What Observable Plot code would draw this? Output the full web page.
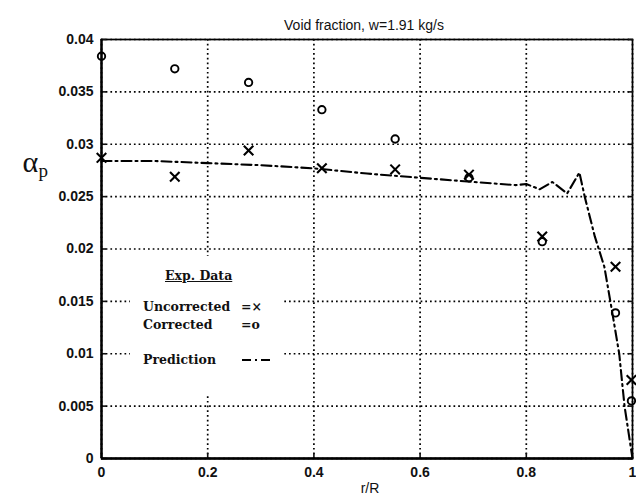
<!DOCTYPE html>
<html>
<head>
<meta charset="utf-8">
<script src="https://cdn.jsdelivr.net/npm/d3@7"></script>
<script src="https://cdn.jsdelivr.net/npm/@observablehq/plot@0.6"></script>
<style>
  html, body { margin: 0; padding: 0; background: #fff; }
  #wrap { position: relative; width: 636px; height: 504px; }
  #legend { position: absolute; left: 130px; top: 256px; width: 153px; height: 138px; background: #fff;
    font-family: "DejaVu Serif", "Liberation Serif", serif; font-weight: bold; font-size: 12.5px; color: #111; }
  #legend .row { position: absolute; left: 13px; white-space: nowrap; }
  #legend .sym { position: absolute; left: 111px; white-space: nowrap; }
</style>
</head>
<body>
<div id="wrap"></div>
<script>
// ---- data ----
const title = "Void fraction, w=1.91 kg/s";
const xLabel = "r/R";
const yLabelMain = "α";
const yLabelSub = "p";

const radii = [0, 0.138, 0.277, 0.415, 0.553, 0.692, 0.83, 0.968, 0.998];
const uncorrected = [0.0287, 0.0269, 0.0294, 0.0277, 0.0276, 0.0271, 0.0212, 0.0183, 0.0075];
const corrected   = [0.0384, 0.0372, 0.0359, 0.0333, 0.0305, 0.0268, 0.0207, 0.0139, 0.0055];

const predX = [0, 0.1, 0.2, 0.3, 0.4, 0.5, 0.6, 0.7, 0.78, 0.8, 0.825, 0.849, 0.877, 0.9, 0.91, 0.929, 0.947, 0.96, 0.975, 0.985, 1.0];
const predY = [0.0284, 0.0284, 0.0282, 0.0280, 0.0277, 0.0272, 0.0268, 0.0264, 0.0261, 0.0262, 0.0257, 0.0264, 0.0253, 0.0273, 0.0250, 0.0212, 0.0183, 0.0145, 0.0100, 0.0050, 0.0];

const xTicks = [0, 0.2, 0.4, 0.6, 0.8, 1];
const xTickLabels = ["0", "0.2", "0.4", "0.6", "0.8", "1"];
const yTicks = [0, 0.005, 0.01, 0.015, 0.02, 0.025, 0.03, 0.035, 0.04];
const yTickLabels = ["0", "0.005", "0.01", "0.015", "0.02", "0.025", "0.03", "0.035", "0.04"];

const legendTitle = "Exp. Data";
const legendRows = [
  {label: "Uncorrected", sym: "=×"},
  {label: "Corrected", sym: "=o"},
  {label: "Prediction", sym: null}
];

// ---- build ----
const pts = radii.map((r, i) => ({r, u: uncorrected[i], c: corrected[i]}));
const pred = predX.map((x, i) => ({x, y: predY[i]}));
const tickFont = "Liberation Sans, Arial, sans-serif";

const chart = Plot.plot({
  width: 636,
  height: 504,
  marginLeft: 101,
  marginRight: 4,
  marginTop: 39,
  marginBottom: 46,
  style: {fontFamily: tickFont, fontSize: "14px", color: "#111", background: "#fff", overflow: "visible"},
  x: {domain: [0, 1]},
  y: {domain: [0, 0.04]},
  marks: [
    Plot.gridX(xTicks, {stroke: "#000", strokeOpacity: 1, strokeWidth: 1.7, strokeDasharray: "1.7,3"}),
    Plot.gridY(yTicks, {stroke: "#000", strokeOpacity: 1, strokeWidth: 1.7, strokeDasharray: "1.7,3"}),
    Plot.frame({stroke: "#000", strokeWidth: 1.7}),
    Plot.axisX(xTicks, {tickSize: 0, tickPadding: 9, tickFormat: (d, i) => xTickLabels[i], fontSize: 14, fontWeight: "bold", label: null}),
    Plot.axisY(yTicks, {tickSize: 0, tickPadding: 8, tickFormat: (d, i) => yTickLabels[i], fontSize: 14, fontWeight: "bold", label: null}),
    Plot.axisY(yTicks, {anchor: "left", tickSize: -5, tickFormat: () => "", label: null, strokeWidth: 1.6}),
    Plot.axisY(yTicks, {anchor: "right", tickSize: -5, tickFormat: () => "", label: null, strokeWidth: 1.6}),
    Plot.axisX(xTicks, {anchor: "bottom", tickSize: -5, tickFormat: () => "", label: null, strokeWidth: 1.6}),
    Plot.ruleY([0], {stroke: "#000", strokeWidth: 2.6}),
    Plot.ruleX([0], {stroke: "#000", strokeWidth: 2.3}),
    Plot.line(pred, {x: "x", y: "y", stroke: "#000", strokeWidth: 2.1, strokeDasharray: "10,4,2,4"}),
    Plot.dot(pts, {x: "r", y: "u", symbol: "times", r: 4.4, stroke: "#000", strokeWidth: 2.1}),
    Plot.dot(pts, {x: "r", y: "c", symbol: "circle", r: 3.7, stroke: "#000", strokeWidth: 1.9, fill: "none"}),
    Plot.text([title], {frameAnchor: "top", dy: -19, dx: -3, fontSize: 14, fill: "#111"}),
    Plot.text([xLabel], {frameAnchor: "bottom", dy: 34, dx: 3, fontSize: 14, fill: "#111"}),
    Plot.text([yLabelMain], {frameAnchor: "left", dx: -79, dy: -87, fontSize: 30, fontFamily: "Liberation Serif, serif", fill: "#111"}),
    Plot.text([yLabelSub], {frameAnchor: "left", dx: -63, dy: -78, fontSize: 19, fontFamily: "Liberation Serif, serif", fill: "#111"})
  ]
});

const wrap = document.getElementById("wrap");
wrap.appendChild(chart);

// legend overlay
const leg = document.createElement("div");
leg.id = "legend";
const t = document.createElement("div");
t.textContent = legendTitle;
t.style.cssText = "position:absolute;left:35px;top:12px;text-decoration:underline;";
leg.appendChild(t);
const rowTops = [43, 61, 96];
legendRows.forEach((row, i) => {
  const d = document.createElement("div");
  d.className = "row";
  d.style.top = rowTops[i] + "px";
  d.textContent = row.label;
  leg.appendChild(d);
  const s = document.createElement("div");
  s.className = "sym";
  s.style.top = rowTops[i] + "px";
  if (row.sym) {
    s.textContent = row.sym;
  } else {
    s.innerHTML = '<svg width="34" height="14"><line x1="1" y1="8" x2="33" y2="8" stroke="#000" stroke-width="2" stroke-dasharray="9,4,2,4"/></svg>';
  }
  leg.appendChild(s);
});
wrap.appendChild(leg);
</script>
</body>
</html>
